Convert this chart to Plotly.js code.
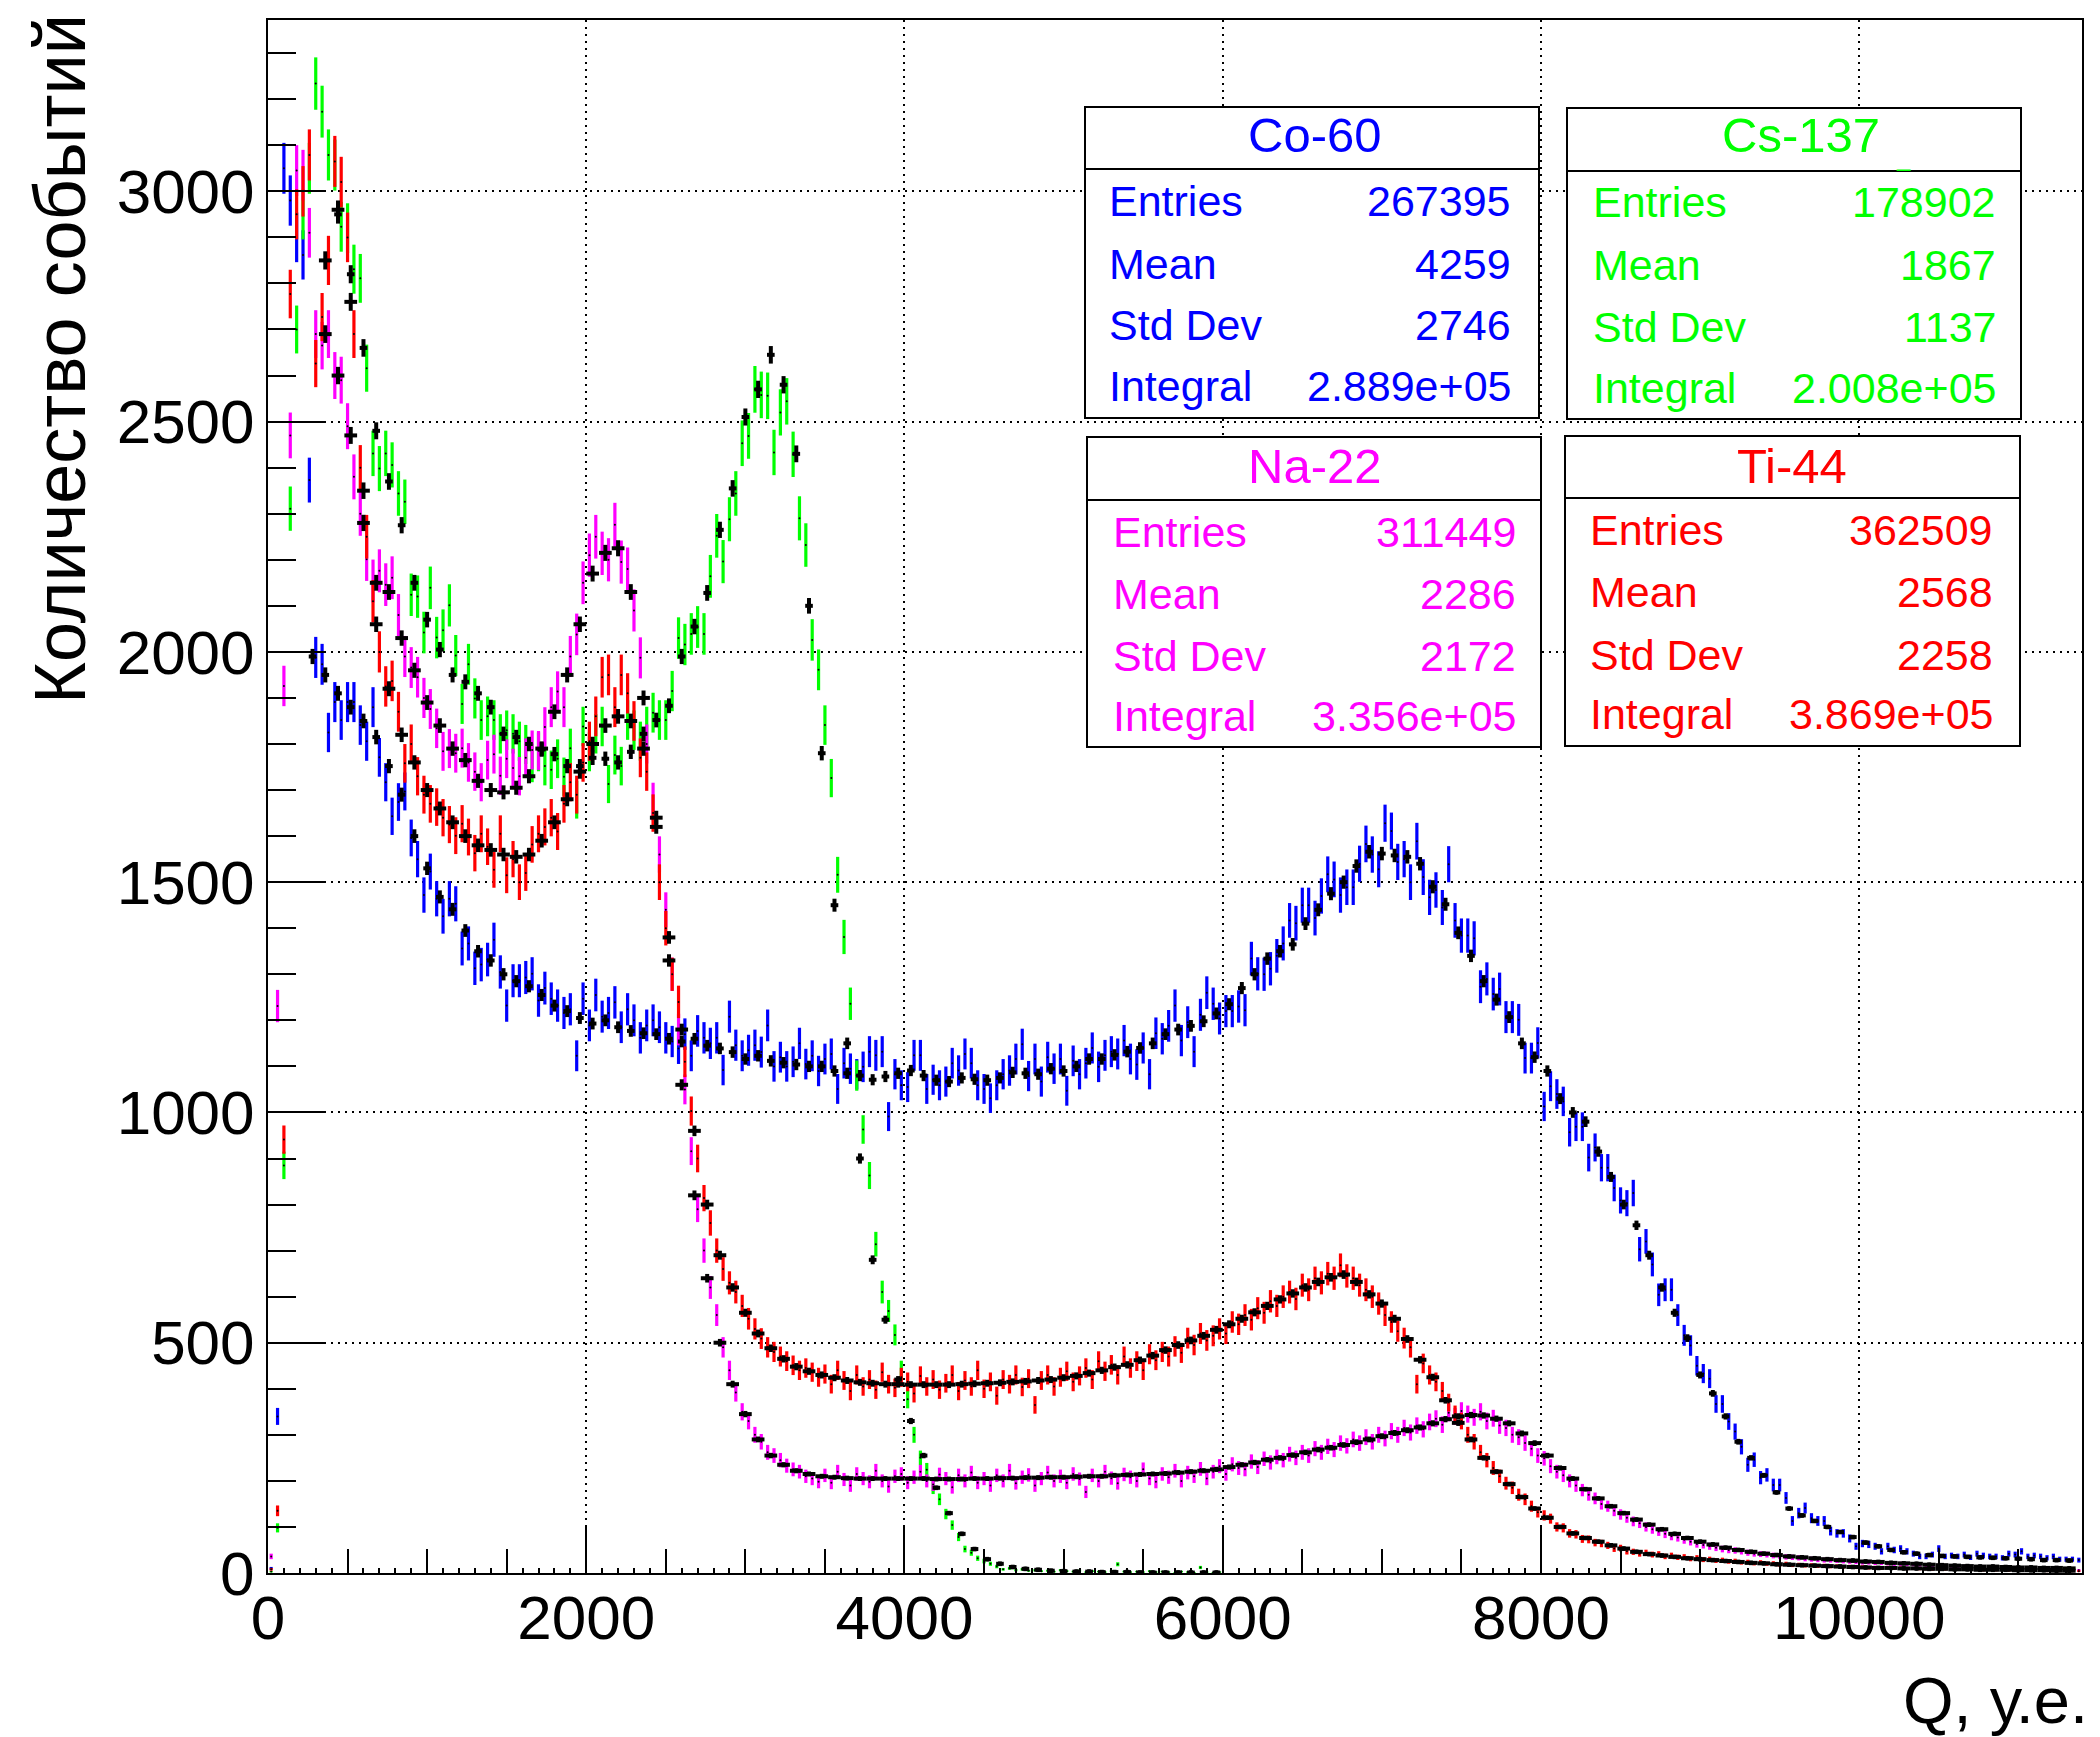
<!DOCTYPE html>
<html><head><meta charset="utf-8">
<script src="https://cdn.plot.ly/plotly-3.0.1.min.js"></script>
<style>body{margin:0;background:#fff}#chart{width:2100px;height:1737px}</style>
</head><body><div id="chart"></div>
<script>
// ---------- data ----------
// measured histograms: bin width 40, first bin centre 20
const binWidth = 40;
const coValues = [
10,340,3050,2980,2900,2862,2373,1988,1973,1825,
1891,1852,1891,1891,1841,1806,1880,1771,1717,1643,
1674,1697,1596,1550,1472,1523,1464,1426,1464,1453,
1356,1367,1313,1321,1332,1375,1305,1232,1286,1286,
1293,1301,1243,1270,1247,1232,1216,1224,1123,1247,
1189,1255,1208,1216,1239,1185,1224,1200,1162,1189,
1200,1185,1162,1154,1139,1170,1123,1177,1162,1150,
1162,1092,1208,1146,1123,1135,1146,1131,1189,1100,
1120,1100,1110,1150,1105,1123,1090,1116,1127,1051,
1107,1095,1083,1099,1132,1124,1132,991,1083,1059,
1055,1124,1124,1051,1071,1059,1067,1107,1091,1127,
1107,1059,1051,1031,1059,1083,1091,1116,1148,1079,
1116,1067,1120,1095,1116,1047,1112,1083,1107,1140,
1099,1124,1132,1127,1156,1116,1104,1140,1083,1172,
1160,1188,1232,1156,1196,1132,1212,1260,1236,1204,
1220,1220,1230,1222,1334,1301,1300,1312,1340,1367,
1417,1411,1450,1450,1422,1470,1517,1506,1472,1489,
1489,1540,1583,1560,1528,1628,1611,1544,1550,1500,
1589,1511,1467,1483,1445,1539,1417,1384,1384,1378,
1273,1290,1257,1268,1207,1207,1201,1118,1118,1151,
1013,1057,1040,1024,957,969,969,902,924,880,
880,836,809,803,825,703,720,670,604,615,
615,560,516,494,450,433,422,367,367,329,
307,274,235,246,207,213,191,191,163,113,
130,141,119,113,113,91,86,86,75,58,
64,62,58,47,58,50,53,47,42,36,
36,40,53,36,38,36,40,34,42,38,
36,36,33,42,40,47,36,38,36,33,
36,30,30,30,28];
const csValues = [
3,98,885,2311,2700,2950,3050,3234,3173,3079,
3057,2923,2920,2831,2811,2616,2431,2398,2431,2406,
2344,2326,2124,2120,2042,2139,2031,2047,2101,1992,
1887,1973,1899,1852,1860,1852,1822,1830,1822,1806,
1799,1759,1783,1752,1744,1768,1729,1791,1679,1838,
1783,1822,1838,1713,1776,1752,1852,1830,1806,1838,
1868,1852,1852,1915,2030,2016,2039,2054,2039,2164,
2252,2196,2288,2344,2453,2469,2570,2558,2556,2433,
2520,2544,2429,2290,2232,2026,1961,1841,1726,1516,
1381,1236,1080,963,863,714,610,569,517,440,
377,300,250,224,185,160,128,104,78,52,
44,32,26,20,14,8,10,6,8,5,
6,4,5,3,6,4,3,5,2,4,
3,2,4,19,3,2,3,2,4,2,
3,2,1,3,2,1,12,2,1,2];
const naValues = [
36,1231,1926,2470,3045,3035,2910,2690,2665,2690,
2600,2590,2490,2380,2300,2201,2154,2176,2146,2161,
2080,1990,1966,1945,1900,1876,1834,1784,1790,1780,
1791,1760,1740,1717,1765,1778,1731,1768,1748,1730,
1770,1787,1786,1837,1880,1914,1880,1990,2038,2150,
2210,2250,2214,2200,2276,2195,2180,2090,1987,1800,
1675,1560,1440,1300,1180,1050,916,790,700,620,
560,490,440,392,350,330,300,285,262,255,
245,233,225,220,210,205,198,212,196,220,
203,190,215,205,198,222,200,188,210,215,
196,208,220,200,192,214,205,186,212,200,
218,196,205,190,212,200,222,195,208,213,
190,205,218,200,210,196,215,204,176,212,
200,220,206,195,214,208,200,225,205,198,
215,208,222,200,218,210,226,205,220,232,
215,236,228,225,242,230,248,240,252,245,
258,250,262,255,270,262,275,268,282,276,
290,282,295,285,300,292,308,300,315,305,
320,312,328,335,322,348,340,352,345,338,
350,330,336,320,315,300,295,282,270,255,
249,232,220,212,200,190,180,170,162,150,
145,135,127,120,112,108,100,95,90,85,
80,77,72,68,63,61,58,55,52,50,
49,47,44,42,41,40,38,37,35,34,
33,31,30,29,28,28,27,26,25,24,
23,23,22,22,21,20,20,19,19,18,
17,17,16,15,15,14,14,13,13,12,
12,11,11,10,10,9,9,9,8,8,
8,7,7,7,6];
const tiValues = [
8,135,941,2777,2950,3000,3079,2626,2727,2850,
3065,3020,2900,2690,2400,2250,2110,2000,1925,1937,
1870,1758,1800,1730,1690,1670,1663,1640,1625,1601,
1627,1598,1563,1605,1577,1527,1605,1515,1550,1500,
1520,1582,1605,1620,1640,1610,1670,1717,1690,1760,
1806,1860,1945,1950,1880,1950,1910,1850,1770,1740,
1650,1500,1400,1300,1240,1110,1003,900,814,760,
700,660,630,610,580,552,530,509,490,480,
470,460,451,440,445,436,425,432,410,440,
418,395,430,405,420,398,436,410,402,425,
415,390,428,405,420,398,412,430,395,418,
405,440,400,415,385,420,410,430,404,422,
365,418,430,405,425,438,415,428,445,420,
460,438,452,430,470,445,460,440,475,462,
480,470,492,478,510,495,520,505,515,530,
520,545,540,560,550,575,565,590,580,600,
610,595,625,615,640,630,650,640,668,645,
640,625,615,600,585,560,545,525,510,490,
410,455,430,415,395,370,345,330,300,285,
262,245,228,210,195,185,170,160,145,132,
125,118,100,98,86,84,74,73,66,64,
60,53,54,47,46,42,44,40,41,36,
38,34,35,31,33,29,30,27,28,25,
26,23,24,21,23,20,21,18,20,17,
18,16,17,15,16,14,15,13,14,12,
13,11,12,10,12,10,11,9,10,9,
9,8,10,8,8,7,9,7,7,6,
7,6,7,5,6,6,5,5,6,4,
5,4,5,4,4];

// reference (black) histograms: bin width 80, first bin centre 40
const refBinWidth = 80;
const coRef = [
null,null,null,1990,1950,1910,1880,1850,1815,1752,
1690,1600,1530,1468,1441,1395,1350,1330,1300,1285,
1274,1255,1232,1220,1205,1193,1200,1185,1177,1172,
1170,1160,1154,1160,1145,1139,1131,1116,1123,1112,
1108,1104,1100,1100,1090,1085,1080,1071,1078,1085,
1091,1080,1070,1067,1075,1072,1070,1075,1087,1085,
1083,1095,1090,1100,1116,1116,1125,1132,1140,1150,
1170,1180,1188,1198,1215,1235,1270,1300,1334,1350,
1365,1410,1440,1475,1500,1535,1566,1562,1558,1555,
1540,1490,1452,1390,1340,1285,1245,1207,1150,1120,
1090,1030,1000,980,915,860,800,755,690,620,
565,510,430,390,340,285,250,212,175,140,
125,113,100,89,78,66,58,50,45,42,
39,37,36,35,34,33,32,31,30,28,
28,27];
const csRef = [
null,null,null,null,null,2950,2820,2660,2480,2370,
2275,2150,2070,2005,1950,1935,1910,1880,1822,1815,
1800,1788,1778,1752,1752,1770,1768,1760,1783,1822,
1852,1883,1990,2055,2128,2265,2355,2510,2570,2645,
2580,2430,2100,1780,1450,1150,900,680,550,420,
330,255,185,130,85,52,30,20,13,9,
7,5,4,3,3,2,2,2,1,1,
1,1,1,1,1];
const naRef = [
null,null,null,null,2690,2600,2470,2280,2150,2130,
2030,1960,1890,1840,1790,1765,1720,1700,1695,1705,
1730,1790,1870,1950,2060,2170,2215,2225,2130,1900,
1620,1330,1060,820,640,500,410,345,290,255,
235,222,215,210,208,206,205,205,205,205,
205,205,204,204,204,205,205,206,206,207,
207,208,208,209,210,210,212,213,214,215,
216,218,220,222,225,230,235,240,246,250,
256,262,268,272,278,284,290,297,304,310,
316,325,334,340,343,342,335,325,303,282,
255,228,205,182,162,145,130,116,105,95,
85,76,68,62,55,50,46,42,39,36,
34,32,30,28,27,25,24,22,21,20,
18,17,16,15,14,14,13,12,12,11,
11,10];
const tiRef = [
null,null,null,null,2850,2960,2760,2350,2060,1920,
1820,1760,1700,1660,1630,1600,1580,1570,1560,1555,
1560,1590,1630,1680,1740,1800,1840,1860,1850,1790,
1640,1380,1180,960,800,690,620,565,520,488,
465,448,438,430,424,418,414,412,410,410,
409,409,409,409,410,411,412,413,415,416,
418,420,424,428,434,440,447,452,462,472,
484,495,505,515,528,540,552,566,580,594,
607,620,632,642,648,632,605,585,552,508,
463,425,375,326,290,250,220,193,165,140,
120,100,86,76,68,60,53,46,41,38,
35,32,30,28,26,24,22,21,19,18,
17,16,15,14,13,12,11,11,10,10,
9,9,8,8,7,7,7,6,6,6,
5,5];

// stat boxes
const sourceNames = ['Co-60','Cs-137','Na-22','Ti-44'];
const sourceColors = ['#0000ff','#00ff00','#ff00ff','#ff0000'];
const statLabels = ['Entries','Mean','Std Dev','Integral'];
const entriesVals = ['267395','178902','311449','362509'];
const meanVals = ['4259','1867','2286','2568'];
const stdDevVals = ['2746','1137','2172','2258'];
const integralVals = ['2.889e+05','2.008e+05','3.356e+05','3.869e+05'];

// ---------- drawing ----------
const W = 2100, H = 1737;
const PL = 268, PR = 2082, PT = 20, PB = 1573;
const px2x = p => (p - PL) / (PR - PL);
const py2y = p => (PB - p) / (PB - PT);
const FONT = 'Liberation Sans, Arial, Helvetica, sans-serif';

function centres(n, first, step) { const a = []; for (let i = 0; i < n; i++) a.push(first + i * step); return a; }

function measured(vals, color) {
  return {
    type: 'scatter', mode: 'markers',
    x: centres(vals.length, binWidth / 2, binWidth), y: vals,
    marker: {color: '#000', size: 2},
    error_y: {type: 'data', array: vals.map(v => Math.sqrt(Math.max(v, 0))), color: color, thickness: 3.2, width: 0, visible: true},
    showlegend: false, hoverinfo: 'skip'
  };
}
function reference(vals, halfWidth) {
  return {
    type: 'scatter', mode: 'markers',
    x: centres(vals.length, refBinWidth / 2, refBinWidth), y: vals,
    marker: {color: '#000', size: 4},
    error_y: {type: 'data', array: vals.map(v => v == null ? null : Math.max(5, 0.37 * Math.sqrt(v))), color: '#000', thickness: 4, width: 0, visible: true},
    error_x: {type: 'constant', value: halfWidth, color: '#000', thickness: 4, width: 0, visible: true},
    showlegend: false, hoverinfo: 'skip'
  };
}

const traces = [
  measured(coValues, sourceColors[0]),
  measured(csValues, sourceColors[1]),
  measured(naValues, sourceColors[2]),
  measured(tiValues, sourceColors[3]),
  reference(coRef, 24), reference(csRef, 24), reference(naRef, 40), reference(tiRef, 40),
  {type: 'scatter', x: [], y: [], xaxis: 'x2', showlegend: false}
];

// stat box geometry (pixels)
const boxes = [
  {x0: 1085, x1: 1539, y0: 107, y1: 418, sep: 169, title: 135, rows: [201, 264, 325, 386], lx: 1107, vx: 1513, tx: 1314},
  {x0: 1567, x1: 2021, y0: 108, y1: 419, sep: 171, title: 135, rows: [202, 265, 327, 388], lx: 1591, vx: 1998, tx: 1801},
  {x0: 1087, x1: 1541, y0: 437, y1: 747, sep: 500, title: 466, rows: [532, 594, 656, 716], lx: 1111, vx: 1518, tx: 1314},
  {x0: 1565, x1: 2020, y0: 436, y1: 746, sep: 498, title: 466, rows: [530, 592, 655, 714], lx: 1588, vx: 1995, tx: 1792}
];
const shapes = [], annotations = [];
boxes.forEach((b, i) => {
  shapes.push({type: 'rect', xref: 'paper', yref: 'paper', x0: px2x(b.x0), x1: px2x(b.x1), y0: py2y(b.y1), y1: py2y(b.y0),
    line: {color: '#000', width: 2}, fillcolor: '#fff', layer: 'above'});
  shapes.push({type: 'line', xref: 'paper', yref: 'paper', x0: px2x(b.x0), x1: px2x(b.x1), y0: py2y(b.sep), y1: py2y(b.sep),
    line: {color: '#000', width: 2}, layer: 'above'});
  const c = sourceColors[i];
  annotations.push({xref: 'paper', yref: 'paper', x: px2x(b.tx), y: py2y(b.title), xanchor: 'center', yanchor: 'middle',
    text: sourceNames[i], showarrow: false, font: {family: FONT, size: 49, color: c}});
  const vals = [entriesVals[i], meanVals[i], stdDevVals[i], integralVals[i]];
  statLabels.forEach((lab, r) => {
    annotations.push({xref: 'paper', yref: 'paper', x: px2x(b.lx), y: py2y(b.rows[r]), xanchor: 'left', yanchor: 'middle',
      text: lab, showarrow: false, font: {family: FONT, size: 43, color: c}});
    annotations.push({xref: 'paper', yref: 'paper', x: px2x(b.vx), y: py2y(b.rows[r]), xanchor: 'right', yanchor: 'middle',
      text: vals[r], showarrow: false, font: {family: FONT, size: 43, color: c}});
  });
});
annotations.push({xref: 'paper', yref: 'paper', x: px2x(1903), y: py2y(158), xanchor: 'center', yanchor: 'middle',
  text: '_', showarrow: false, font: {family: FONT, size: 24, color: sourceColors[1]}});
// axis titles
annotations.push({xref: 'paper', yref: 'paper', x: px2x(2090), y: py2y(1700), xanchor: 'right', yanchor: 'middle',
  text: 'Q, у.е.', showarrow: false, font: {family: FONT, size: 65, color: '#000'}});
annotations.push({xref: 'paper', yref: 'paper', x: px2x(60), y: py2y(12), xanchor: 'center', yanchor: 'top', textangle: -90,
  text: 'Количество событий', showarrow: false, font: {family: FONT, size: 72, color: '#000'}});

const tickFont = {family: FONT, size: 62, color: '#000'};
const layout = {
  width: W, height: H,
  margin: {l: PL, r: W - PR, t: PT, b: H - PB, pad: 0},
  paper_bgcolor: '#fff', plot_bgcolor: '#fff',
  showlegend: false,
  xaxis: {
    range: [0, 11400], tick0: 0, dtick: 2000, tickformat: 'd', ticks: 'inside', ticklen: 48, tickwidth: 2, tickcolor: '#000',
    showline: true, linecolor: '#000', linewidth: 2, mirror: true, zeroline: false,
    showgrid: true, gridcolor: '#000', gridwidth: 2, griddash: '2px,5px',
    tickfont: tickFont, ticklabelstandoff: -10, automargin: false,
    minor: {tick0: 0, dtick: 500, ticks: 'inside', ticklen: 24, tickwidth: 2, tickcolor: '#000', showgrid: false}
  },
  xaxis2: {
    overlaying: 'x', anchor: 'y', side: 'bottom', range: [0, 11400], tick0: 0, dtick: 100,
    ticks: 'inside', ticklen: 5, tickwidth: 2, tickcolor: '#000', showticklabels: false,
    showgrid: false, showline: false, zeroline: false, automargin: false
  },
  yaxis: {
    range: [0, 3372], tick0: 0, dtick: 500, tickformat: 'd', ticks: 'inside', ticklen: 57, tickwidth: 2, tickcolor: '#000',
    showline: true, linecolor: '#000', linewidth: 2, mirror: true, zeroline: false,
    showgrid: true, gridcolor: '#000', gridwidth: 2, griddash: '2px,5px',
    tickfont: tickFont, ticklabelstandoff: -1, automargin: false,
    minor: {tick0: 0, dtick: 100, ticks: 'inside', ticklen: 28, tickwidth: 2, tickcolor: '#000', showgrid: false}
  },
  shapes: shapes,
  annotations: annotations
};
Plotly.newPlot('chart', traces, layout, {staticPlot: true, displayModeBar: false});
</script>
</body></html>
